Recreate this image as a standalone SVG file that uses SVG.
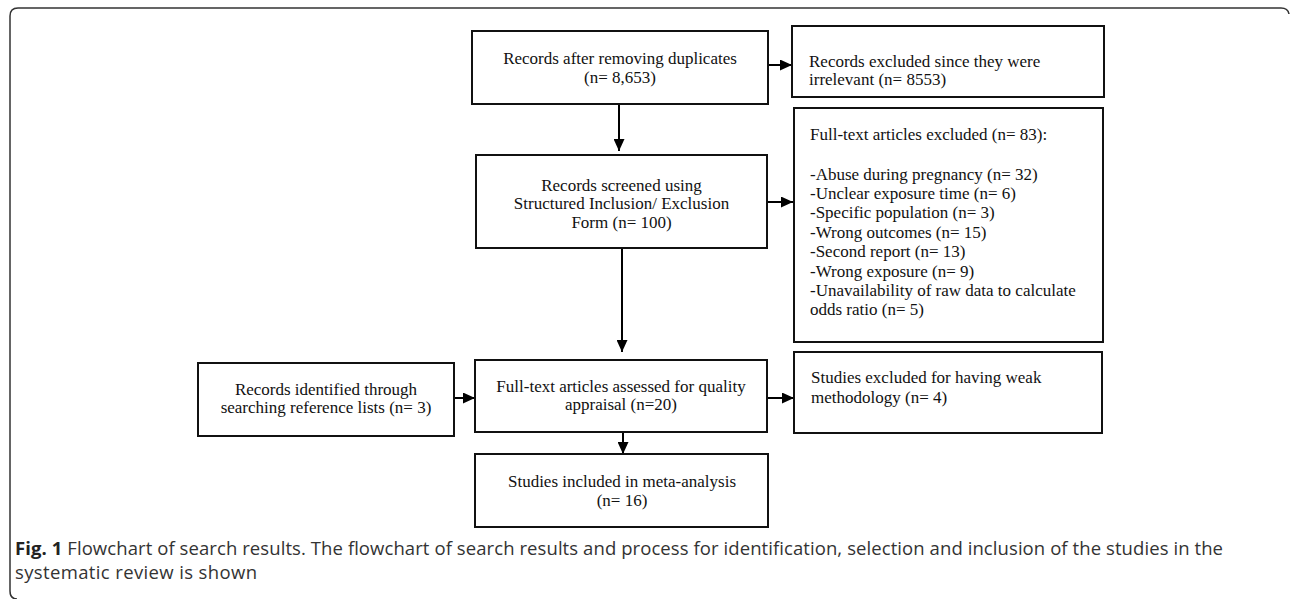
<svg xmlns="http://www.w3.org/2000/svg" width="1290" height="599" viewBox="0 0 1290 599">
<defs>
<marker id="ah" markerWidth="12" markerHeight="11" refX="12" refY="5.5" orient="auto" markerUnits="userSpaceOnUse">
<path d="M0,0 L12,5.5 L0,11 Z" fill="#000"/>
</marker>
<style>
.box{fill:#fff;stroke:#111;stroke-width:2}
.t{font-family:"Liberation Serif","Times New Roman",serif;font-size:17px;fill:#111}
.c{text-anchor:middle}
.con{stroke:#000;stroke-width:2;fill:none}
.cap{font-family:"Open Sans","Noto Sans",sans-serif;font-size:18.5px;fill:#333}
</style>
</defs>
<rect width="1290" height="599" fill="#fff"/>
<path d="M17,599 Q10,599 10,591 V16 Q10,8 18,8 H1281 Q1288,8 1289,14" fill="none" stroke="#333" stroke-width="1.5"/>

<g id="connectors">
<line class="con" x1="768" y1="65" x2="792" y2="65" marker-end="url(#ah)"/>
<line class="con" x1="619" y1="104" x2="619" y2="151" marker-end="url(#ah)"/>
<line class="con" x1="767" y1="202" x2="793" y2="202" marker-end="url(#ah)"/>
<line class="con" x1="622" y1="248" x2="622" y2="352" marker-end="url(#ah)"/>
<line class="con" x1="454" y1="398" x2="475" y2="398" marker-end="url(#ah)"/>
<line class="con" x1="767" y1="398" x2="794" y2="398" marker-end="url(#ah)"/>
<line class="con" x1="623" y1="432" x2="623" y2="454" marker-end="url(#ah)"/>
</g>

<g id="n1">
<rect class="box" x="472" y="31" width="296" height="73"/>
<text class="t c" x="620" y="64">Records after removing duplicates</text>
<text class="t c" x="620" y="83">(n= 8,653)</text>
</g>
<g id="n2">
<rect class="box" x="792" y="26" width="312" height="71"/>
<text class="t" x="809" y="67">Records excluded since they were</text>
<text class="t" x="809" y="85">irrelevant (n= 8553)</text>
</g>
<g id="n3">
<rect class="box" x="476" y="155" width="291" height="93"/>
<text class="t c" x="621.5" y="191">Records screened using</text>
<text class="t c" x="621.5" y="209">Structured Inclusion/ Exclusion</text>
<text class="t c" x="621.5" y="228">Form (n= 100)</text>
</g>
<g id="n4">
<rect class="box" x="794" y="108" width="309" height="234"/>
<text class="t" x="810" y="140">Full-text articles excluded (n= 83):</text>
<text class="t" x="810" y="180">-Abuse during pregnancy (n= 32)</text>
<text class="t" x="810" y="199">-Unclear exposure time (n= 6)</text>
<text class="t" x="810" y="218">-Specific population (n= 3)</text>
<text class="t" x="810" y="238">-Wrong outcomes (n= 15)</text>
<text class="t" x="810" y="257">-Second report (n= 13)</text>
<text class="t" x="810" y="277">-Wrong exposure (n= 9)</text>
<text class="t" x="810" y="296">-Unavailability of raw data to calculate</text>
<text class="t" x="810" y="315">odds ratio (n= 5)</text>
</g>
<g id="n5">
<rect class="box" x="198" y="363" width="256" height="73"/>
<text class="t c" x="326" y="395">Records identified through</text>
<text class="t c" x="326" y="413">searching reference lists (n= 3)</text>
</g>
<g id="n6">
<rect class="box" x="475" y="360" width="292" height="72"/>
<text class="t c" x="621" y="392">Full-text articles assessed for quality</text>
<text class="t c" x="621" y="410">appraisal (n=20)</text>
</g>
<g id="n7">
<rect class="box" x="794" y="352" width="308" height="81"/>
<text class="t" x="811" y="383">Studies excluded for having weak</text>
<text class="t" x="811" y="403">methodology (n= 4)</text>
</g>
<g id="n8">
<rect class="box" x="475" y="454" width="293" height="73"/>
<text class="t c" x="622" y="487">Studies included in meta-analysis</text>
<text class="t c" x="622" y="506">(n= 16)</text>
</g>

<g id="caption">
<text class="cap" x="15" y="555" textLength="1208" lengthAdjust="spacing"><tspan font-weight="bold" fill="#222">Fig. 1</tspan> Flowchart of search results. The flowchart of search results and process for identification, selection and inclusion of the studies in the</text>
<text class="cap" x="15" y="579" textLength="242" lengthAdjust="spacing">systematic review is shown</text>
</g>
</svg>
